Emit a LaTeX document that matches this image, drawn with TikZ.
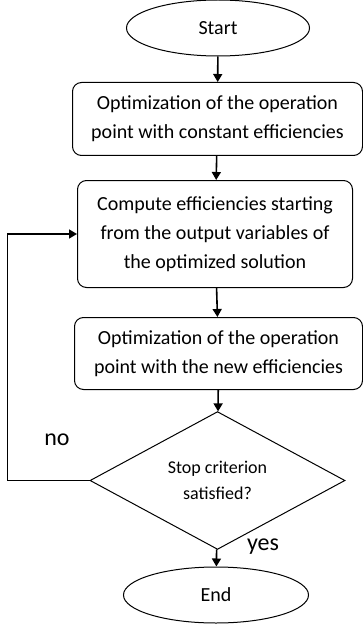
\documentclass[tikz,border=0pt]{standalone}
\usepackage{fontspec}
\setmainfont{Carlito}
\usetikzlibrary{shapes.geometric,arrows.meta}

\begin{document}
\begin{tikzpicture}[x=1pt, y=1pt,
    term/.style={draw, ellipse, line width=1pt, inner sep=0pt,
      font=\fontsize{20}{24}\selectfont},
    proc/.style={draw, rectangle, rounded corners=9pt, line width=1pt,
      align=center, inner sep=0pt, font=\fontsize{20}{29}\selectfont},
    flow/.style={line width=1.6pt, -{Triangle[length=8pt, width=9pt]}}]
        \useasboundingbox (0, 0) rectangle (363, -631);

        \node (start) at (218, -28) [term, minimum width=183, minimum height=56] {Start};

        \node (opt1) at (217.5, -119) [proc, minimum width=290, minimum height=73]
          {Optimization of the operation\\point with constant efficiencies};
        \node (comp) at (215, -234) [proc, minimum width=275, minimum height=107]
          {Compute efficiencies starting\\from the output variables of\\the optimized solution};
        \node (opt2) at (218.5, -353.5) [proc, minimum width=288, minimum height=72]
          {Optimization of the operation\\point with the new efficiencies};

        \node (stop) at (217.5, -480.5) [draw, diamond, line width=1pt, inner sep=0pt,
          minimum width=255, minimum height=135, align=center,
          font=\fontsize{18}{26}\selectfont] {Stop criterion\\satisfied?};

        \node (end) at (216, -595) [term, minimum width=185, minimum height=56] {End};

        \node (no)  at (57, -440)  [font=\fontsize{24}{28}\selectfont] {no};
        \node (yes) at (263, -547) [font=\fontsize{24}{28}\selectfont] {yes};

        \draw [flow] (start) -- (opt1);
        \draw [flow] (opt1)  -- (comp);
        \draw [flow] (comp)  -- (opt2);
        \draw [flow] (opt2)  -- (stop);
        \draw [flow] (stop)  -- (end);
        \draw [flow] (stop.west) -- ++(-82, 0) |- (comp.west);
\end{tikzpicture}
\end{document}
